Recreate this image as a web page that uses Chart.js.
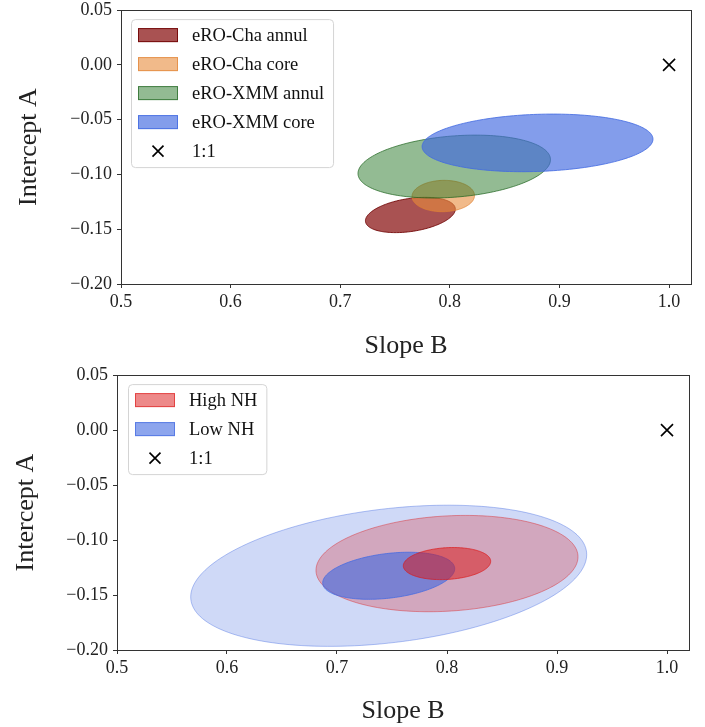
<!DOCTYPE html>
<html>
<head>
<meta charset="utf-8">
<script src="https://cdn.jsdelivr.net/npm/chart.js@4.4.1/dist/chart.umd.min.js"></script>
<style>
  body { margin: 0; background: #fff; }
  #wrap { position: relative; width: 705px; height: 727px; }
  canvas { position: absolute; left: 0; }
  #fitTop { top: 0; }
  #fitBottom { top: 365px; }
</style>
</head>
<body>
<div id="wrap">
  <canvas id="fitTop" width="705" height="365"></canvas>
  <canvas id="fitBottom" width="705" height="362"></canvas>
</div>
<script>
const slopeTicks = [0.5, 0.6, 0.7, 0.8, 0.9, 1.0];
const interceptTicks = [0.05, 0.0, -0.05, -0.10, -0.15, -0.20];

// eROSITA vs Chandra / XMM temperature fits (1 sigma)
const clusterLabels = ["eRO-Cha annul", "eRO-Cha core", "eRO-XMM annul", "eRO-XMM core"];
const clusterSlope = [0.764, 0.794, 0.804, 0.880];
const clusterIntercept = [-0.137, -0.1197, -0.0928, -0.0712];
const clusterSlopeErr = [0.041, 0.0285, 0.0878, 0.1053];
const clusterInterceptErr = [0.0161, 0.0143, 0.0287, 0.0263];
const clusterCorr = [0.33, 0.03, 0.22, 0.13];

// same fit split by absorbing column
const nhLabels = ["High NH", "Low NH"];
const nhSlope = [0.800, 0.747];
const nhIntercept = [-0.1214, -0.1325];
const nhSlopeErr = [0.0397, 0.060];
const nhInterceptErr = [0.0146, 0.0214];
const nhCorr = [0.14, 0.30];
const nhLevels = [3, 1];

const oneToOne = [{x: 1.0, y: 0.0}];

const FONT = "'Liberation Serif', 'DejaVu Serif', serif";
const AXIS = "#333";

const clusterFill = ["rgba(128,0,0,0.68)", "rgba(232,140,60,0.6)", "rgba(40,120,40,0.5)", "rgba(65,105,225,0.65)"];
const clusterEdge = ["rgba(110,0,0,0.85)", "rgba(225,130,50,0.7)", "rgba(30,100,30,0.7)", "rgba(65,105,225,0.8)"];
const nhColor = ["220,20,20", "65,105,225"];

function fmtA(v) {
  if (Math.abs(v) < 1e-9) v = 0;
  return v.toFixed(2).replace("-", "\u2212");
}

function ellipsePath(ctx, xs, ys, e) {
  const q = Math.sqrt(1 - e.rho * e.rho);
  ctx.beginPath();
  for (let i = 0; i <= 180; i++) {
    const t = i / 180 * Math.PI * 2;
    const bx = e.cx + e.sx * Math.cos(t);
    const ay = e.cy + e.sy * (e.rho * Math.cos(t) + q * Math.sin(t));
    const px = xs.getPixelForValue(bx), py = ys.getPixelForValue(ay);
    if (i === 0) ctx.moveTo(px, py); else ctx.lineTo(px, py);
  }
  ctx.closePath();
}

const ellipsePlugin = {
  id: "ellipses",
  beforeDatasetsDraw(chart, args, opts) {
    const {ctx, chartArea: a} = chart;
    const xs = chart.scales.x, ys = chart.scales.y;
    ctx.save();
    ctx.beginPath();
    ctx.rect(a.left, a.top, a.right - a.left, a.bottom - a.top);
    ctx.clip();
    for (const e of opts.items) {
      ellipsePath(ctx, xs, ys, e);
      ctx.fillStyle = e.fill;
      ctx.fill();
      ctx.lineWidth = 1;
      ctx.strokeStyle = e.edge;
      ctx.stroke();
    }
    ctx.restore();
  }
};

const framePlugin = {
  id: "frame",
  afterDraw(chart) {
    const {ctx, chartArea: a} = chart;
    ctx.save();
    ctx.strokeStyle = AXIS;
    ctx.lineWidth = 1;
    ctx.strokeRect(Math.round(a.left) + 0.5, Math.round(a.top) + 0.5,
      Math.round(a.right - a.left), Math.round(a.bottom - a.top));
    ctx.restore();
  }
};

const boxLegend = {
  id: "boxLegend",
  afterDraw(chart, args, opts) {
    const {ctx, chartArea: a} = chart;
    const x0 = a.left + opts.dx, y0 = a.top + opts.dy;
    const rowH = 29, first = 16;
    ctx.save();
    ctx.font = "18.5px " + FONT;
    let tw = 0;
    for (const it of opts.items) tw = Math.max(tw, ctx.measureText(it.label).width);
    const w = 61 + tw + 9, h = first + rowH * (opts.items.length - 1) + 16;
    ctx.beginPath();
    ctx.roundRect(x0 + 0.5, y0 + 0.5, w, h, 4);
    ctx.fillStyle = "rgba(255,255,255,0.8)";
    ctx.fill();
    ctx.strokeStyle = "#d4d4d4";
    ctx.lineWidth = 1;
    ctx.stroke();
    opts.items.forEach((it, i) => {
      const cy = y0 + first + rowH * i;
      if (it.marker) {
        const cx = x0 + 27, r = 5.5;
        ctx.strokeStyle = "#000";
        ctx.lineWidth = 1.6;
        ctx.beginPath();
        ctx.moveTo(cx - r, cy - r); ctx.lineTo(cx + r, cy + r);
        ctx.moveTo(cx + r, cy - r); ctx.lineTo(cx - r, cy + r);
        ctx.stroke();
      } else {
        ctx.fillStyle = it.fill;
        ctx.fillRect(x0 + 7, cy - 7, 40, 14);
        ctx.strokeStyle = it.edge;
        ctx.lineWidth = 1;
        ctx.strokeRect(x0 + 7.5, cy - 6.5, 39, 13);
      }
      ctx.fillStyle = "#111";
      ctx.textBaseline = "middle";
      ctx.fillText(it.label, x0 + 61, cy + 1);
    });
    ctx.restore();
  }
};

function makeChart(id, spec) {
  const canvas = document.getElementById(id);
  const H = canvas.height;
  return new Chart(canvas, {
    type: "scatter",
    data: {
      datasets: [{
        label: "1:1",
        data: oneToOne,
        pointStyle: "crossRot",
        radius: 8.5,
        borderWidth: 1.6,
        borderColor: "#000",
        backgroundColor: "#000"
      }]
    },
    options: {
      responsive: false,
      animation: false,
      devicePixelRatio: 1,
      layout: {padding: {top: spec.top, right: 705 - spec.right, left: 0, bottom: 0}},
      plugins: {
        legend: {display: false},
        tooltip: {enabled: false},
        ellipses: {items: spec.ellipses},
        boxLegend: {dx: spec.legendDx, dy: spec.legendDy, items: spec.legend}
      },
      scales: {
        x: {
          type: "linear",
          min: 0.5,
          max: 1.02,
          afterBuildTicks: s => { s.ticks = slopeTicks.map(v => ({value: v})); },
          afterFit: s => {
            s.height = H - spec.bottom;
            s.paddingLeft = 0;
            s.paddingRight = 0;
          },
          grid: {drawOnChartArea: false, tickLength: 4, color: AXIS},
          border: {color: AXIS, width: 1},
          ticks: {
            font: {family: FONT, size: 18},
            color: "#222",
            padding: 3,
            maxRotation: 0,
            autoSkip: false,
            callback: v => v.toFixed(1)
          },
          title: {
            display: true,
            text: "Slope B",
            font: {family: FONT, size: 26},
            color: "#222",
            padding: {top: 0, bottom: spec.xTitlePad}
          }
        },
        y: {
          type: "linear",
          min: -0.2,
          max: 0.05,
          afterBuildTicks: s => { s.ticks = interceptTicks.map(v => ({value: v})); },
          afterFit: s => {
            s.width = spec.left;
            s.paddingTop = 0;
            s.paddingBottom = 0;
          },
          grid: {drawOnChartArea: false, tickLength: 4, color: AXIS},
          border: {color: AXIS, width: 1},
          ticks: {
            font: {family: FONT, size: 18},
            color: "#222",
            padding: 5,
            autoSkip: false,
            callback: fmtA
          },
          title: {
            display: true,
            text: "Intercept A",
            font: {family: FONT, size: 26},
            color: "#222",
            padding: {top: spec.yTitlePad, bottom: 0}
          }
        }
      }
    },
    plugins: [ellipsePlugin, framePlugin, boxLegend]
  });
}

// upper panel: one ellipse per comparison
const topEllipses = clusterLabels.map((name, i) => ({
  cx: clusterSlope[i], cy: clusterIntercept[i],
  sx: clusterSlopeErr[i], sy: clusterInterceptErr[i], rho: clusterCorr[i],
  fill: clusterFill[i], edge: clusterEdge[i]
}));
const topLegend = clusterLabels.map((name, i) => ({label: name, fill: clusterFill[i], edge: clusterEdge[i]}));
topLegend.push({label: "1:1", marker: true});

makeChart("fitTop", {
  left: 121, right: 691, top: 10, bottom: 284,
  xTitlePad: 3, yTitlePad: 14,
  legendDx: 10, legendDy: 9,
  ellipses: topEllipses,
  legend: topLegend
});

// lower panel: 3 sigma contours first, then 1 sigma on top
const nhAlpha = {3: [0.25, 0.25], 1: [0.5, 0.6]};
const bottomEllipses = [];
for (const k of nhLevels) {
  for (const i of [1, 0]) {
    bottomEllipses.push({
      cx: nhSlope[i], cy: nhIntercept[i],
      sx: nhSlopeErr[i] * k, sy: nhInterceptErr[i] * k, rho: nhCorr[i],
      fill: `rgba(${nhColor[i]},${nhAlpha[k][i]})`,
      edge: `rgba(${nhColor[i]},${nhAlpha[k][i] + 0.15})`
    });
  }
}
const bottomLegend = nhLabels.map((name, i) => ({
  label: name,
  fill: `rgba(${nhColor[i]},${i === 0 ? 0.5 : 0.6})`,
  edge: `rgba(${nhColor[i]},${i === 0 ? 0.6 : 0.7})`
}));
bottomLegend.push({label: "1:1", marker: true});

makeChart("fitBottom", {
  left: 117, right: 689, top: 10, bottom: 285,
  xTitlePad: 0, yTitlePad: 11,
  legendDx: 11, legendDy: 9,
  ellipses: bottomEllipses,
  legend: bottomLegend
});
</script>
</body>
</html>
